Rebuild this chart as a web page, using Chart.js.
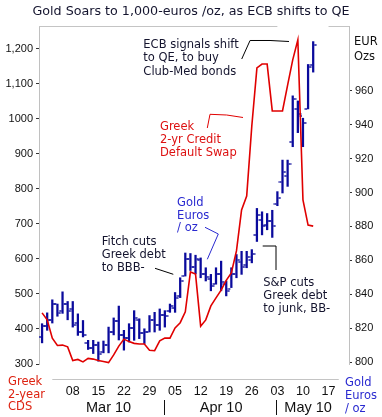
<!DOCTYPE html>
<html>
<head>
<meta charset="utf-8">
<script src="https://cdn.jsdelivr.net/npm/chart.js@4.4.0/dist/chart.umd.min.js"></script>
<style>
html, body { margin:0; padding:0; background:#fff; }
</style>
</head>
<body>
<canvas id="chart" width="382" height="417"></canvas>
<script>
// trading days on the x axis, Feb 26 .. May 21 2010
var dates = ["02-26",
	"03-01","03-02","03-03","03-04","03-05",
	"03-08","03-09","03-10","03-11","03-12",
	"03-15","03-16","03-17","03-18","03-19",
	"03-22","03-23","03-24","03-25","03-26",
	"03-29","03-30","03-31","04-01","04-02",
	"04-05","04-06","04-07","04-08","04-09",
	"04-12","04-13","04-14","04-15","04-16",
	"04-19","04-20","04-21","04-22","04-23",
	"04-26","04-27","04-28","04-29","04-30",
	"05-03","05-04","05-05","05-06","05-07",
	"05-10","05-11","05-12","05-13","05-14",
	"05-17","05-18","05-19","05-20","05-21"];

var xTickDates = ["03-08","03-15","03-22","03-29","04-05","04-12","04-19","04-26","05-03","05-10","05-17"];
var xTickText = ["08","15","22","29","05","12","19","26","03","10","17"];
var monthText = ["Mar 10","Apr 10","May 10"];
var monthAt = ["03-17","04-16","05-11"];
var monthBreaks = ["04-01","05-03"];

// Greek 2yr CDS (left axis)
var cds = [446,426,374,353,354,349,310,313,306,316,
	314,310,307,304,326,351,371,364,359,357,
	357,339,338,366,374,374,403,418,449,563,
	557,408,426,466,489,511,539,560,623,740,
	780,980,1146,1157,1157,1023,1023,1023,1097,1169,
	1226,769,697,694];

// gold in euros / oz, daily bars (right axis)
var goldHigh = [822.6,829,836.7,834.2,841.4,835.7,835.7,828.4,824.5,812.8,
	812.8,811.8,812.4,820.6,826,833,818.7,822.6,830.3,825.5,
	819.6,827.4,829.3,831.3,830.3,834.2,841,849.7,864.3,864,
	863,861.4,855.6,851.7,855.6,859.5,847.8,855.6,863.4,865.3,
	865.3,866.3,890.6,888.6,887.6,889.5,900.5,919.1,919.1,957,
	954,943.8,975.5,989];
var goldLow = [811.3,818.7,823,827,828.7,824.9,820.6,815.7,814.8,807.4,
	805,800.5,805.4,805.4,816,813,807,811.8,812.8,813.8,
	810.9,817.7,817.7,818.7,820.6,829.3,829.3,838,850.7,854,
	852,849.7,847.8,842,845.9,842,839,843.9,849.7,851.7,
	855.6,858.5,871.1,875,878,873.5,892.2,899.7,903.6,927,
	935.3,927,949.3,971];
var goldOpen = [815,821,825,834,830,834,831,823,818,811,
	808,810,806,810,818,824,816,814,820,825,
	817,818,825,822,828,830,832,839,851,861,
	856,860,852,849,846,852,846,843,852,859,
	857,860,875,884,881,883,893,906,910,930,
	949,945,949,975];
var goldClose = [821,825,834,829,834,830,822,818,816,808,
	810,805,810,818,824,816,814,820,826,817,
	818,825,822,828,827,833,838,848,861,856,
	861,852,850,845,852,847,842,852,860,856,
	862,864,887,880,883,880,897,912,917,955,
	946,941,974,987];

var leftTicks = [300,400,500,600,700,800,900,1000,1100,1200];
var leftTickText = ["300","400","500","600","700","800","900","1000","1,100","1,200"];
var rightTicks = [800,820,840,860,880,900,920,940,960];

var red = "#e00000";
var navy = "#0a0a9c";
var blue = "#2a2ad0";
var ink = "#14142e";

// little side ticks for open (left) and close (right)
function tickImg(side) {
	var c = document.createElement("canvas");
	c.width = 8; c.height = 2;
	var g = c.getContext("2d");
	g.fillStyle = navy;
	g.fillRect(side < 0 ? 0.5 : 5, 0.3, 2.5, 1.4);
	return c;
}

function pts(arr) {
	var out = [];
	for (var i = 0; i < arr.length; i++) out.push({x: i, y: arr[i]});
	return out;
}
var hiLo = [];
for (var i = 0; i < goldHigh.length; i++) hiLo.push({x: i, y: [goldLow[i], goldHigh[i]]});

// text callouts, placed in (day index, left axis value)
var notes = [
	{lines: ["ECB signals shift", "to QE, to buy", "Club-Med bonds"], x: 19.8, y: 1211, gap: 13.3, color: ink},
	{lines: ["Greek", "2-yr Credit", "Default Swap"], x: 23.05, y: 978, gap: 13, color: "#dd1111"},
	{lines: ["Gold", "Euros", "/ oz"], x: 26.4, y: 760, gap: 12.6, color: blue},
	{lines: ["Fitch cuts", "Greek debt", "to BBB-"], x: 11.66, y: 649.4, gap: 13.2, color: ink},
	{lines: ["S&P cuts", "Greek debt", "to junk, BB-"], x: 43.25, y: 532.3, gap: 13.3, color: ink}
];
var pointers = [
	{p: [[39.03,1171.4],[40.66,1224.3],[44.56,1224.3],[48.27,1221.4]], color: "#000"},
	{p: [[32.3,974.3],[32.83,1013.4],[36.09,1011.4],[39.28,1004.3]], color: red},
	{p: [[31.85,690.6],[34.45,671.4],[32.3,599.1]], color: blue},
	{p: [[22.08,573.4],[25.65,556.3]], color: "#000"},
	{p: [[43.13,637.1],[45.73,637.1],[45.73,568.6]], color: "#000"}
];

var decor = {
	id: "decor",
	afterDraw: function(chart) {
		var ctx = chart.ctx, a = chart.chartArea;
		var xs = chart.scales.x, yl = chart.scales.yL;
		ctx.save();
		// frame pieces
		ctx.strokeStyle = "#c4c4c4";
		ctx.lineWidth = 1;
		ctx.beginPath();
		ctx.moveTo(a.left, a.top + 0.5);
		ctx.lineTo(xs.getPixelForValue(dates.indexOf("05-03")), a.top + 0.5);
		ctx.moveTo(xs.getPixelForValue(dates.indexOf("05-17")), a.top + 0.5);
		ctx.lineTo(a.right, a.top + 0.5);
		// detached x axis line
		ctx.moveTo(xs.getPixelForValue(dates.indexOf("03-02")), a.bottom + 15.5);
		ctx.lineTo(xs.getPixelForValue(dates.indexOf("05-19")), a.bottom + 15.5);
		ctx.stroke();

		// months
		ctx.fillStyle = "#111";
		ctx.font = "14.5px 'Liberation Sans'";
		ctx.textAlign = "center";
		ctx.textBaseline = "middle";
		for (var m = 0; m < monthText.length; m++) {
			ctx.fillText(monthText[m], xs.getPixelForValue(dates.indexOf(monthAt[m])), a.bottom + 44);
		}
		ctx.strokeStyle = "#111";
		ctx.beginPath();
		for (var b = 0; b < monthBreaks.length; b++) {
			var bx = Math.round(xs.getPixelForValue(dates.indexOf(monthBreaks[b]))) - 0.5;
			ctx.moveTo(bx, a.bottom + 36);
			ctx.lineTo(bx, a.bottom + 51);
		}
		ctx.stroke();

		// axis captions
		ctx.textAlign = "left";
		ctx.font = "11.5px 'DejaVu Sans'";
		ctx.fillStyle = "#dd2211";
		["Greek", "2-year", "CDS"].forEach(function(t, k) { ctx.fillText(t, 8, a.bottom + 18 + k * 12.7); });
		ctx.fillStyle = blue;
		["Gold", "Euros", "/ oz"].forEach(function(t, k) { ctx.fillText(t, a.right - 4, a.bottom + 19 + k * 13.2); });
		ctx.fillStyle = "#111";
		ctx.fillText("EUR", a.right + 5, a.top + 16);
		ctx.fillText("Ozs", a.right + 5, a.top + 31);

		// callouts
		notes.forEach(function(n) {
			ctx.fillStyle = n.color;
			var x0 = xs.getPixelForValue(n.x), y0 = yl.getPixelForValue(n.y);
			n.lines.forEach(function(t, k) { ctx.fillText(t, x0, y0 + k * n.gap); });
		});
		pointers.forEach(function(q) {
			ctx.strokeStyle = q.color;
			ctx.beginPath();
			q.p.forEach(function(pp, k) {
				var px = xs.getPixelForValue(pp[0]), py = yl.getPixelForValue(pp[1]);
				if (k == 0) ctx.moveTo(px, py); else ctx.lineTo(px, py);
			});
			ctx.stroke();
		});
		ctx.restore();
	}
};

var ctx = document.getElementById("chart").getContext("2d");
var chart = new Chart(ctx, {
	type: "bar",
	data: {
		datasets: [
			{type: "line", label: "Greek 2yr CDS", data: pts(cds), yAxisID: "yL", borderColor: red, borderWidth: 1.6, pointRadius: 0, tension: 0, order: 0},
			{type: "bar", label: "Gold high-low", data: hiLo, yAxisID: "yR", backgroundColor: navy, barThickness: 1.6, order: 2},
			{type: "scatter", label: "open", data: pts(goldOpen), yAxisID: "yR", pointStyle: tickImg(-1), pointRadius: 3, order: 1},
			{type: "scatter", label: "close", data: pts(goldClose), yAxisID: "yR", pointStyle: tickImg(1), pointRadius: 3, order: 1}
		]
	},
	options: {
		responsive: false,
		animation: false,
		events: [],
		layout: {padding: 0},
		plugins: {
			legend: {display: false},
			tooltip: {enabled: false},
			title: {
				display: true,
				text: "Gold Soars to 1,000-euros /oz, as ECB shifts to QE",
				color: ink,
				font: {family: "'DejaVu Sans'", size: 12.7, weight: "normal", lineHeight: 1.2},
				padding: {top: 4, bottom: 6.76}
			}
		},
		scales: {
			x: {
				type: "linear", position: "bottom", min: -0.6, max: 60, offset: false,
				grid: {display: false, drawTicks: false},
				border: {display: false},
				afterBuildTicks: function(s) { s.ticks = xTickDates.map(function(d) { return {value: dates.indexOf(d)}; }); },
				afterFit: function(s) { s.height = 53; },
				ticks: {
					autoSkip: false, maxRotation: 0, padding: 20, color: "#111",
					font: {family: "'Liberation Sans'", size: 12.5},
					callback: function(v) { var k = xTickDates.indexOf(dates[v]); return k >= 0 ? xTickText[k] : ""; }
				}
			},
			yL: {
				type: "linear", position: "left", min: 300, max: 1265.7,
				grid: {drawOnChartArea: false, drawTicks: true, tickLength: 3, color: "#333"},
				border: {display: true, color: "#c0c0c0"},
				afterBuildTicks: function(s) { s.ticks = leftTicks.map(function(v) { return {value: v}; }); },
				afterFit: function(s) { s.width = 39; },
				ticks: {
					padding: 3, color: "#111", font: {family: "'Liberation Sans'", size: 11},
					callback: function(v) { return leftTickText[leftTicks.indexOf(v)]; }
				}
			},
			yR: {
				type: "linear", position: "right", min: 798.83, max: 998.2,
				grid: {drawOnChartArea: false, drawTicks: true, tickLength: 3, color: "#333"},
				border: {display: true, color: "#c0c0c0"},
				afterBuildTicks: function(s) { s.ticks = rightTicks.map(function(v) { return {value: v}; }); },
				afterFit: function(s) { s.width = 33; },
				ticks: {padding: 3, color: "#111", font: {family: "'Liberation Sans'", size: 11}}
			}
		}
	},
	plugins: [decor]
});
</script>
</body>
</html>
